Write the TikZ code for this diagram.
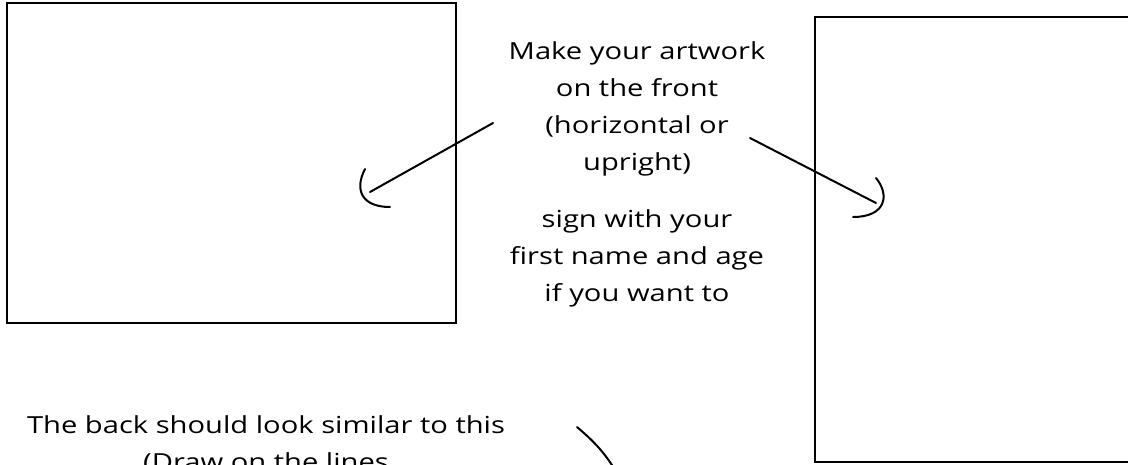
\documentclass[tikz,border=0pt]{standalone}
\usepackage{fontspec}
\setmainfont[FakeStretch=1.24]{Open Sans}
\begin{document}
\begin{tikzpicture}[x=1pt,y=-1pt,
  frame/.style={draw=black,line width=2pt},
  stroke/.style={draw=black,line width=2pt,line cap=round},
  note/.style={inner sep=0pt,align=center,font=\fontsize{23.5}{37}\selectfont,text=black}]
\useasboundingbox (0,0) rectangle (1128,464);
\clip (0,0) rectangle (1128,464);
\fill[white] (0,0) rectangle (1128,464);
% frames
\node[frame,minimum width=449pt,minimum height=320pt,inner sep=0pt] (front) at (231.5,163) {};
\node[frame,minimum width=330pt,minimum height=445pt,inner sep=0pt] (back) at (980,239.5) {};
% texts
\node[note,anchor=north] (t1) at (637,41) {Make your artwork\\on the front\\(horizontal or\\upright)};
\node[note,anchor=north] (t2) at (637,209) {sign with your\\first name and age\\if you want to};
\node[note,anchor=base] (t3) at (266,433) {The back should look similar to this};
\node[note,anchor=base] (t4) at (266,470) {(Draw on the lines};
% arrows
\coordinate (a1s) at (493,123);
\coordinate (a1e) at (370,192);
\coordinate (h1a) at (365,169);
\coordinate (h1b) at (390,207);
\draw[stroke] (a1s) -- (a1e);
\draw[stroke] (h1a) .. controls (354,190) and (362,207) .. (h1b);
\coordinate (a2s) at (750,138);
\coordinate (a2e) at (876,203);
\coordinate (h2a) at (876,178);
\coordinate (h2b) at (853,217);
\draw[stroke] (a2s) -- (a2e);
\draw[stroke] (h2a) .. controls (890,195) and (886,217) .. (h2b);
\coordinate (a3s) at (577,427);
\coordinate (a3e) at (622,482);
\draw[stroke] (a3s) .. controls (592,440) and (606,452) .. (a3e);
\end{tikzpicture}
\end{document}
